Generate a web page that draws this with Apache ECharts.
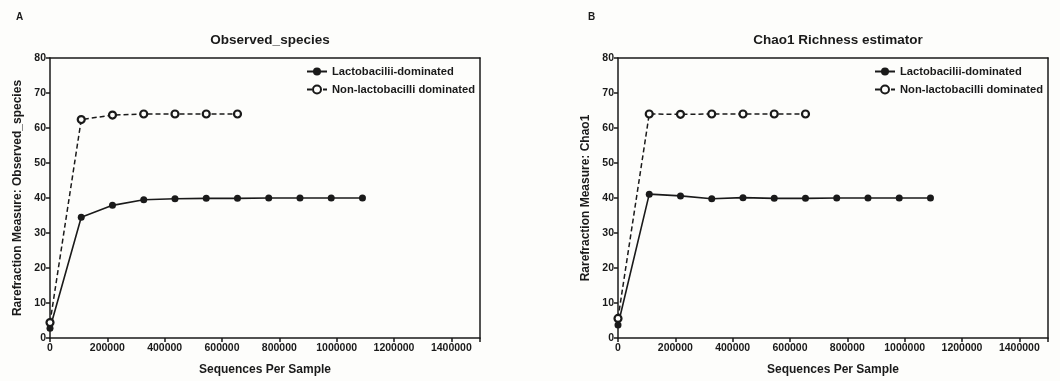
<!DOCTYPE html>
<html>
<head>
<meta charset="utf-8">
<script src="https://cdn.jsdelivr.net/npm/echarts@6/dist/echarts.min.js"></script>
<style>
  html, body { margin: 0; padding: 0; background: #fdfdfb; }
  #chart { width: 1060px; height: 381px; }
</style>
</head>
<body>
<div id="chart"></div>
<script>
// sequencing depths (x)
var depthLacto = [10, 109000, 218000, 327000, 436000, 545000, 654000, 763000, 872000, 981000, 1090000];
var depthNon = [10, 109000, 218000, 327000, 436000, 545000, 654000];

// A: observed species
var obsLacto = [2.8, 34.5, 37.9, 39.5, 39.8, 39.9, 39.9, 40.0, 40.0, 40.0, 40.0];
var obsNon = [4.4, 62.4, 63.7, 64.0, 64.0, 64.0, 64.0];

// B: chao1
var chaoLacto = [3.7, 41.1, 40.6, 39.8, 40.1, 39.9, 39.9, 40.0, 40.0, 40.0, 40.0];
var chaoNon = [5.6, 64.0, 63.9, 64.0, 64.0, 64.0, 64.0];

var xTicks = [0, 200000, 400000, 600000, 800000, 1000000, 1200000, 1400000];

var nameLacto = 'Lactobacilii-dominated';
var nameNon = 'Non-lactobacilli dominated';

function pairs(xs, ys) {
  return xs.map(function (x, i) { return [x, ys[i]]; });
}

var font = 'Liberation Sans, Arial, sans-serif';
var ink = '#1a1a1a';

function xAxis(idx) {
  return {
    gridIndex: idx, type: 'value', min: 0, max: 1500000, interval: 200000,
    name: 'Sequences Per Sample', nameLocation: 'middle', nameGap: 26,
    nameTextStyle: { fontFamily: font, fontWeight: 'bold', fontSize: 12, color: ink },
    axisLine: { onZero: false, lineStyle: { color: ink, width: 1.5 } },
    axisTick: { show: true, length: 4, lineStyle: { color: ink, width: 1.5 } },
    axisLabel: { fontFamily: font, fontWeight: 'bold', fontSize: 10.5, color: ink, margin: 5,
      formatter: function (v) { return xTicks.indexOf(v) >= 0 ? String(v) : ''; } },
    splitLine: { show: false }
  };
}
function xAxisTop(idx) {
  return { gridIndex: idx, type: 'value', position: 'top', min: 0, max: 1500000,
    axisLine: { show: true, onZero: false, lineStyle: { color: ink, width: 1.5 } },
    axisTick: { show: false }, axisLabel: { show: false }, splitLine: { show: false } };
}
function yAxis(idx, name) {
  return {
    gridIndex: idx, type: 'value', min: 0, max: 80, interval: 10,
    name: name, nameLocation: 'middle', nameGap: 26,
    nameTextStyle: { fontFamily: font, fontWeight: 'bold', fontSize: 12, color: ink },
    axisLine: { show: true, onZero: false, lineStyle: { color: ink, width: 1.5 } },
    axisTick: { show: true, length: 4, lineStyle: { color: ink, width: 1.5 } },
    axisLabel: { fontFamily: font, fontWeight: 'bold', fontSize: 10.5, color: ink, margin: 4 },
    splitLine: { show: false }
  };
}
function yAxisRight(idx) {
  return { gridIndex: idx, type: 'value', position: 'right', min: 0, max: 80,
    axisLine: { show: true, onZero: false, lineStyle: { color: ink, width: 1.5 } },
    axisTick: { show: false }, axisLabel: { show: false }, splitLine: { show: false } };
}

function lactoSeries(idx, ys) {
  return {
    name: nameLacto, type: 'line', xAxisIndex: idx * 2, yAxisIndex: idx * 2,
    data: pairs(depthLacto, ys), symbol: 'circle', symbolSize: 7,
    lineStyle: { color: ink, width: 1.6 }, itemStyle: { color: ink },
    z: 3
  };
}
function nonSeries(idx, ys) {
  return {
    name: nameNon, type: 'line', xAxisIndex: idx * 2, yAxisIndex: idx * 2,
    data: pairs(depthNon, ys), symbol: 'circle', symbolSize: 7,
    lineStyle: { color: ink, width: 1.5, type: [5, 3] },
    itemStyle: { color: '#fdfdfb', borderColor: ink, borderWidth: 2.2 },
    z: 4
  };
}

function legend(left) {
  return { data: [nameLacto, nameNon], left: left, top: 66, orient: 'vertical', itemGap: 7,
    padding: 0, itemWidth: 20, itemHeight: 10,
    textStyle: { fontFamily: font, fontWeight: 'bold', fontSize: 11.2, color: ink } };
}

var chart = echarts.init(document.getElementById('chart'));
chart.setOption({
  backgroundColor: '#fdfdfb',
  animation: false,
  title: [
    { text: 'A', left: 11, top: 7, textStyle: { fontFamily: font, fontWeight: 'bold', fontSize: 10, color: ink } },
    { text: 'B', left: 583, top: 7, textStyle: { fontFamily: font, fontWeight: 'bold', fontSize: 10, color: ink } },
    { text: 'Observed_species', left: 265, top: 28, textAlign: 'center',
      textStyle: { fontFamily: font, fontWeight: 'bold', fontSize: 13.5, color: ink } },
    { text: 'Chao1 Richness estimator', left: 833, top: 28, textAlign: 'center',
      textStyle: { fontFamily: font, fontWeight: 'bold', fontSize: 13.5, color: ink } }
  ],
  legend: [legend(306), legend(874)],
  grid: [
    { left: 50, top: 58, width: 430, height: 282 },
    { left: 618, top: 58, width: 430, height: 282 }
  ],
  xAxis: [xAxis(0), xAxisTop(0), xAxis(1), xAxisTop(1)],
  yAxis: [
    yAxis(0, 'Rarefraction Measure: Observed_species'), yAxisRight(0),
    yAxis(1, 'Rarefraction Measure: Chao1'), yAxisRight(1)
  ],
  series: [
    lactoSeries(0, obsLacto), nonSeries(0, obsNon),
    lactoSeries(1, chaoLacto), nonSeries(1, chaoNon)
  ]
});
</script>
</body>
</html>
